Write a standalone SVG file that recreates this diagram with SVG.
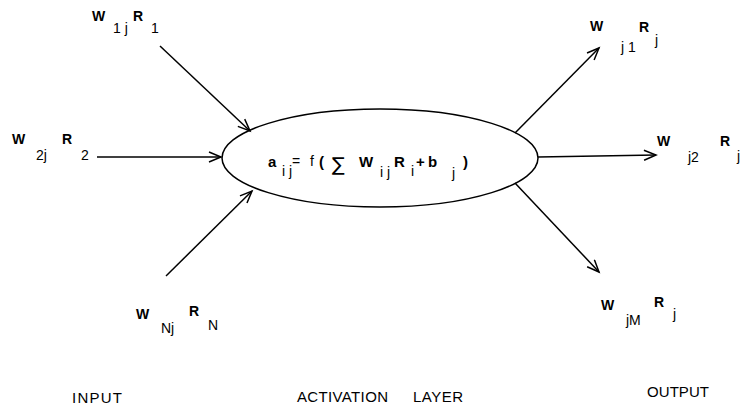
<svg xmlns="http://www.w3.org/2000/svg" width="745" height="413" viewBox="0 0 745 413">
<style>
text{font-family:"Liberation Sans",Arial,sans-serif;fill:#000}
.b{font-weight:bold;font-size:14px}
.s{font-size:14px}
.f{font-weight:bold;font-size:15px}
.fs{font-size:14px}
.lab{font-size:15px}
.con line{stroke:#000;stroke-width:1.5;fill:none}
</style>
<defs>
<marker id="ah" markerUnits="userSpaceOnUse" markerWidth="16" markerHeight="14" refX="13" refY="6" orient="auto" viewBox="0 0 16 14">
<path d="M1,1 L13,6 L1,11" fill="none" stroke="#000" stroke-width="1.5"/>
</marker>
</defs>
<rect width="745" height="413" fill="#fff"/>
<g id="neuron">
<ellipse cx="380" cy="158" rx="158" ry="49" fill="#fff" stroke="#000" stroke-width="1.5"/>
<text><tspan class="f" x="268" y="167">a</tspan><tspan class="fs" x="282" y="176">i j</tspan><tspan class="fs" x="292" y="166">=</tspan><tspan class="fs" x="310" y="166">f</tspan><tspan class="f" x="319" y="167">(</tspan><tspan style="font-family:'DejaVu Sans',sans-serif;font-size:19px;font-weight:normal" x="332" y="171">∑</tspan><tspan class="f" x="359" y="167">W</tspan><tspan class="fs" x="380" y="177">i j</tspan><tspan class="f" x="394" y="167">R</tspan><tspan class="fs" x="411" y="176">i</tspan><tspan class="f" x="416" y="167">+</tspan><tspan class="f" x="428" y="167">b</tspan><tspan class="fs" x="452" y="178">j</tspan><tspan class="f" x="463" y="167">)</tspan></text>
</g>
<g id="in1"><text><tspan class="b" x="92" y="21">W</tspan><tspan class="s" x="113" y="33">1 j</tspan><tspan class="b" x="133" y="21">R</tspan><tspan class="s" x="151" y="33">1</tspan></text></g>
<g id="in2"><text><tspan class="b" x="12" y="144">W</tspan><tspan class="s" x="36" y="160">2j</tspan><tspan class="b" x="62" y="144">R</tspan><tspan class="s" x="81" y="160">2</tspan></text></g>
<g id="inN"><text><tspan class="b" x="136" y="319">W</tspan><tspan class="s" x="161" y="333">Nj</tspan><tspan class="b" x="189" y="316">R</tspan><tspan class="s" x="208" y="330">N</tspan></text></g>
<g id="out1"><text><tspan class="b" x="590" y="31">W</tspan><tspan class="s" x="621" y="52">j 1</tspan><tspan class="b" x="639" y="32">R</tspan><tspan class="s" x="655" y="45">j</tspan></text></g>
<g id="out2"><text><tspan class="b" x="657" y="146">W</tspan><tspan class="s" x="688" y="162">j2</tspan><tspan class="b" x="720" y="146">R</tspan><tspan class="s" x="737" y="161">j</tspan></text></g>
<g id="outM"><text><tspan class="b" x="601" y="310">W</tspan><tspan class="s" x="626" y="325">jM</tspan><tspan class="b" x="654" y="307">R</tspan><tspan class="s" x="673" y="319">j</tspan></text></g>
<g id="labels">
<text class="lab" x="72" y="403" textLength="50">INPUT</text>
<text class="lab" x="297" y="402" textLength="91">ACTIVATION</text>
<text class="lab" x="413" y="402" textLength="50">LAYER</text>
<text class="lab" x="647" y="397" textLength="62">OUTPUT</text>
</g>
<g id="connectors" class="con">
<line x1="160" y1="46" x2="250" y2="131" marker-end="url(#ah)"/>
<line x1="97" y1="157" x2="221" y2="157" marker-end="url(#ah)"/>
<line x1="166" y1="276" x2="252" y2="191" marker-end="url(#ah)"/>
<line x1="515" y1="133" x2="599" y2="48" marker-end="url(#ah)"/>
<line x1="538" y1="157" x2="656" y2="155" marker-end="url(#ah)"/>
<line x1="515" y1="183" x2="599" y2="272" marker-end="url(#ah)"/>
</g>
</svg>
